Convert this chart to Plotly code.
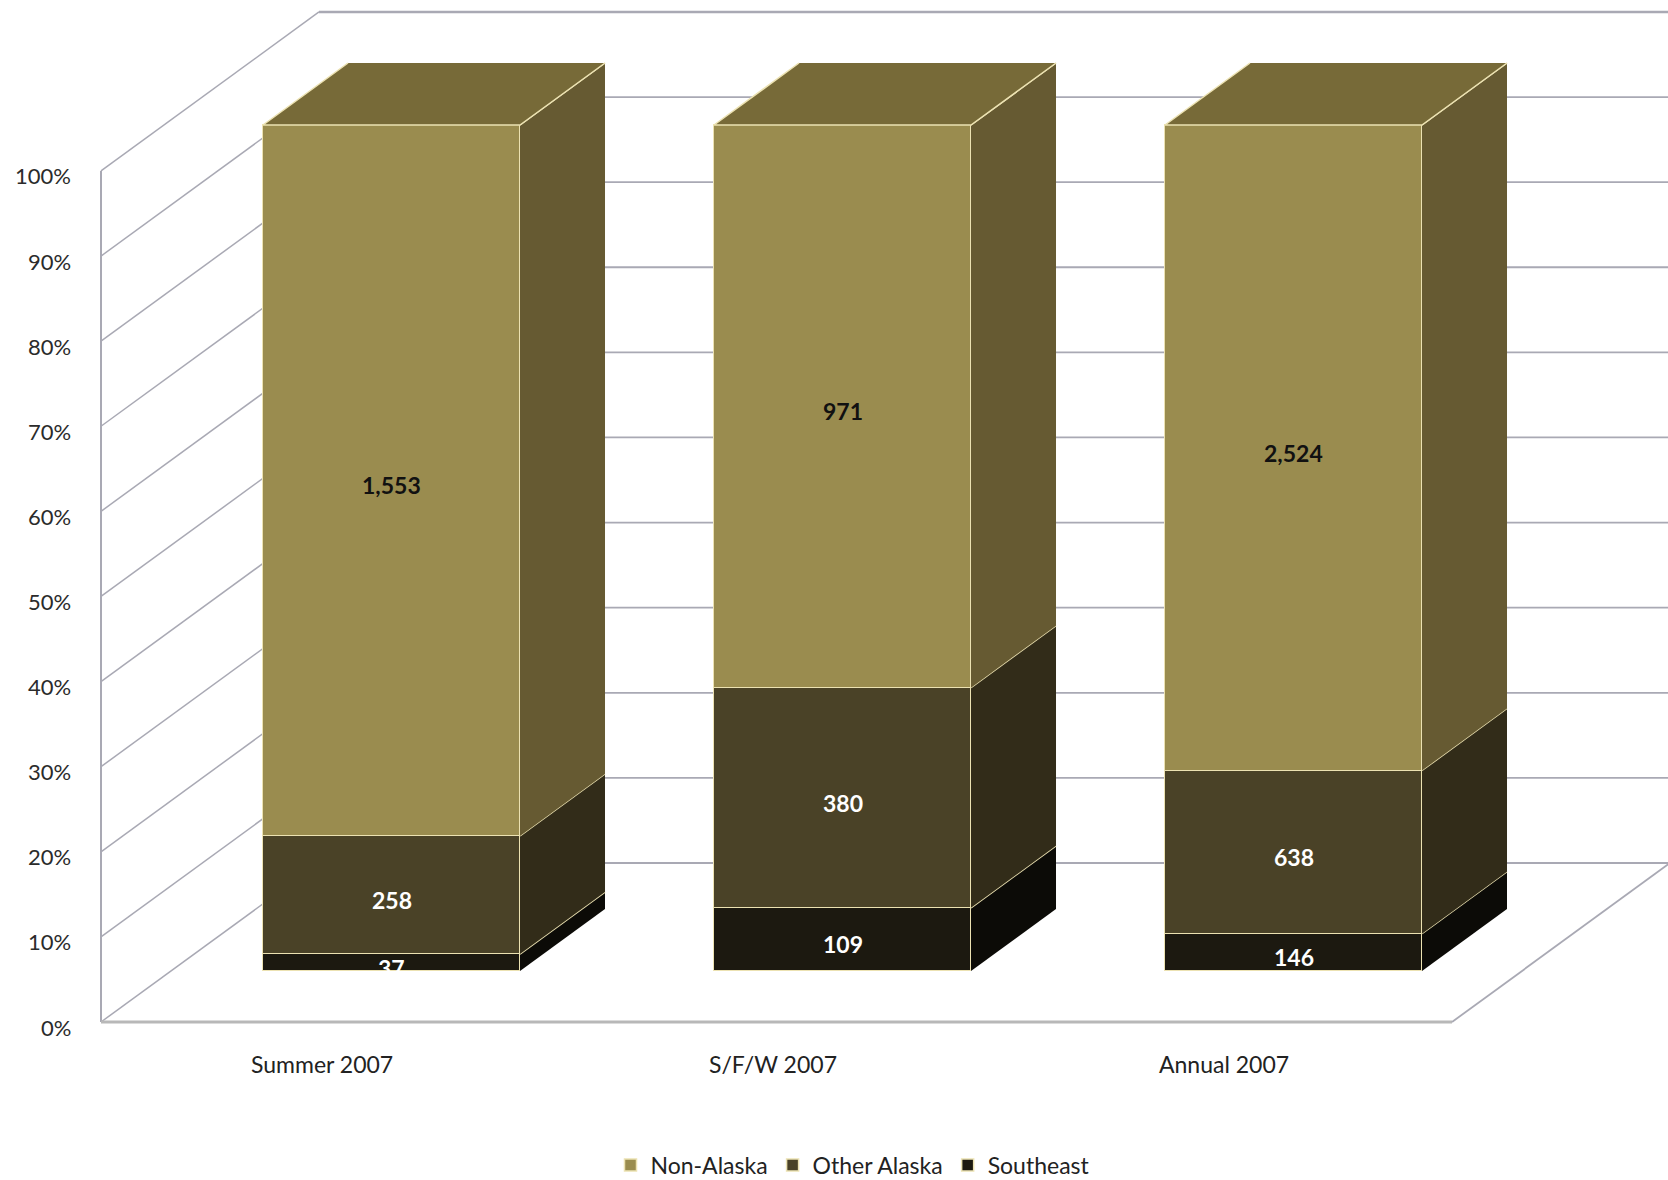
import plotly.graph_objects as go

# ---------------- data ----------------
categories = ["Summer 2007", "S/F/W 2007", "Annual 2007"]
southeast = [37, 109, 146]
other_alaska = [258, 380, 638]
non_alaska = [1553, 971, 2524]
series_names = ["Southeast", "Other Alaska", "Non-Alaska"]
y_ticks = [0, 10, 20, 30, 40, 50, 60, 70, 80, 90, 100]

# ---------------- styles ----------------
front_colors = {"Southeast": "#1c1910", "Other Alaska": "#4a4227", "Non-Alaska": "#9a8c4f"}
side_colors = {"Southeast": "#0c0b07", "Other Alaska": "#322c19", "Non-Alaska": "#665a32"}
top_color = "#776a38"
label_colors = {"Southeast": "#ffffff", "Other Alaska": "#ffffff", "Non-Alaska": "#111111"}
legend_rank = {"Non-Alaska": 1, "Other Alaska": 2, "Southeast": 3}
edge_color = "#ece2b2"
wall_color = "#a9a9b4"
FONT = "Lato, 'Open Sans', sans-serif"

# ---------------- geometry (pixels of the 1668x1180 page) ----------------
W, H = 1668, 1180
X0_PX = 391.5          # pixel x of first category centre (bar front plane)
STEP_PX = 451.0        # pixels between categories
Y0_PX = 971.0          # pixel y of 0% on the bar front plane
PX_PER_PCT = 8.46      # pixels per percent (bars)
WALL_SCALE = 1.006     # walls appear very slightly taller than the bars
BAR_W = 257.0 / STEP_PX
DEPTH_DX = 218.0 / STEP_PX          # full wall depth, x component (axis units)
DEPTH_DP = 159.0 / PX_PER_PCT       # full wall depth, y component (percent units)
Z_FRONT = -51.0 / 159.0             # front wall plane relative to bar front plane
Z_BACK = Z_FRONT + 1.0              # back wall plane
Z_BAR = 62.0 / 159.0                # bar depth
WALL_LEFT_PX = 101.0
FLOOR_RIGHT_PX = 1452.0


def proj(u, p, z):
    return u + z * DEPTH_DX, p + z * DEPTH_DP


def px_to_u(px):
    return (px - X0_PX) / STEP_PX


XL = px_to_u(WALL_LEFT_PX) - Z_FRONT * DEPTH_DX
XR = px_to_u(FLOOR_RIGHT_PX) - Z_FRONT * DEPTH_DX
X_FAR = px_to_u(W + 50)

fig = go.Figure()

# ---------------- walls (shapes, below traces) ----------------
shapes = []


def seg(a, b, color=wall_color, width=1.5):
    shapes.append(dict(type="line", xref="x", yref="y", x0=a[0], y0=a[1], x1=b[0], y1=b[1],
                       line=dict(color=color, width=width), layer="below"))


for t in y_ticks:
    tw = t * WALL_SCALE
    fl = proj(XL, tw, Z_FRONT)
    bl = proj(XL, tw, Z_BACK)
    seg(fl, bl)
    seg(bl, (X_FAR, bl[1]), width=2.5 if t == 100 else 1.8)
seg(proj(XL, 0, Z_FRONT), proj(XL, 100 * WALL_SCALE, Z_FRONT), width=2)
seg(proj(XL, 0, Z_FRONT), proj(XR, 0, Z_FRONT), color="#b8b8b8", width=3)
seg(proj(XR, 0, Z_FRONT), proj(XR, 0, Z_BACK), width=1.8)

# ---------------- bars ----------------
values = {"Southeast": southeast, "Other Alaska": other_alaska, "Non-Alaska": non_alaska}
totals = [sum(v[i] for v in values.values()) for i in range(len(categories))]
pct = {k: [100.0 * v[i] / totals[i] for i in range(len(categories))] for k, v in values.items()}
xs = list(range(len(categories)))

for name in series_names:
    fig.add_trace(go.Bar(
        x=xs, y=pct[name], width=BAR_W, name=name,
        marker=dict(color=front_colors[name], line=dict(color=edge_color, width=1.5)),
        legendrank=legend_rank[name], hoverinfo="skip",
    ))

annotations = []
for i in xs:
    bottom = 0.0
    right = i + BAR_W / 2
    left = i - BAR_W / 2
    for name in series_names:
        p0, p1 = bottom, bottom + pct[name][i]
        a = (right, p0)
        b = (right, p1)
        c = proj(right, p1, Z_BAR)
        d = proj(right, p0, Z_BAR)
        fig.add_trace(go.Scatter(
            x=[a[0], b[0], c[0], d[0], a[0]], y=[a[1], b[1], c[1], d[1], a[1]],
            mode="lines", fill="toself", fillcolor=side_colors[name],
            line=dict(width=0, color=side_colors[name]), showlegend=False, hoverinfo="skip"))
        fig.add_trace(go.Scatter(
            x=[b[0], c[0]], y=[b[1], c[1]], mode="lines",
            line=dict(color=edge_color, width=1.5), showlegend=False, hoverinfo="skip"))
        annotations.append(dict(
            x=i, y=(p0 + p1) / 2, xref="x", yref="y", yshift=-5,
            text=f"<b>{values[name][i]:,}</b>",
            showarrow=False, font=dict(family=FONT, size=23, color=label_colors[name])))
        bottom = p1
    # top face
    tl = (left, bottom)
    tr = (right, bottom)
    br = proj(right, bottom, Z_BAR)
    bl = proj(left, bottom, Z_BAR)
    fig.add_trace(go.Scatter(
        x=[tl[0], tr[0], br[0], bl[0], tl[0]], y=[tl[1], tr[1], br[1], bl[1], tl[1]],
        mode="lines", fill="toself", fillcolor=top_color,
        line=dict(width=0, color=top_color), showlegend=False, hoverinfo="skip"))
    fig.add_trace(go.Scatter(
        x=[bl[0], tl[0], tr[0], br[0]], y=[bl[1], tl[1], tr[1], br[1]], mode="lines",
        line=dict(color=edge_color, width=1.5), showlegend=False, hoverinfo="skip"))

# ---------------- axis text ----------------
for t in y_ticks:
    annotations.append(dict(
        x=73.0 / W, xref="paper", xanchor="right", y=proj(XL, t * WALL_SCALE, Z_FRONT)[1], yref="y",
        yanchor="middle", yshift=-5, text=f"{t}%", showarrow=False,
        font=dict(family=FONT, size=22, color="#2b2b2b")))
for i, cat in enumerate(categories):
    annotations.append(dict(
        x=proj(i, 0, Z_FRONT)[0], xref="x", y=1 - 1064.0 / H, yref="paper",
        text=cat, showarrow=False, xanchor="center", yanchor="middle",
        font=dict(family=FONT, size=23, color="#222222")))

fig.update_layout(
    width=W, height=H, autosize=False,
    margin=dict(l=0, r=0, t=0, b=0, pad=0, autoexpand=False),
    paper_bgcolor="white", plot_bgcolor="white",
    barmode="stack", bargap=0,
    shapes=shapes, annotations=annotations,
    xaxis=dict(range=[px_to_u(0), px_to_u(W)], visible=False, fixedrange=True),
    yaxis=dict(range=[(Y0_PX - H) / PX_PER_PCT, Y0_PX / PX_PER_PCT], visible=False, fixedrange=True),
    showlegend=True,
    legend=dict(orientation="h", traceorder="normal", x=853.0 / W, xanchor="center",
                y=1 - 1165.0 / H, yanchor="middle",
                font=dict(family=FONT, size=23, color="#222222"), bgcolor="rgba(0,0,0,0)",
                itemwidth=30, tracegroupgap=0),
)

fig.write_html("out.html")
